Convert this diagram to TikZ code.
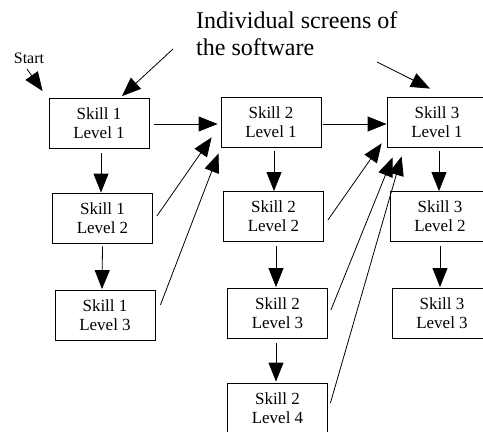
\documentclass[tikz,border=0pt]{standalone}
\usepackage{fontspec}
\setmainfont{Liberation Serif}
\usetikzlibrary{arrows.meta,calc}
\begin{document}
\begin{tikzpicture}[x=1pt,y=-1pt,
  screen/.style={draw,line width=0.8pt,minimum width=100pt,minimum height=50pt,inner sep=0pt,align=center,font=\fontsize{17}{19}\selectfont},
  conn/.style={line width=0.8pt,-{Triangle[length=19pt,width=15pt]}}]
\useasboundingbox (0,0) rectangle (483,432);
\clip (0,0) rectangle (483,432);
% boxes
\node[screen] (s11) at (99,123.5) {Skill 1\\Level 1};
\node[screen] (s12) at (102.5,218) {Skill 1\\Level 2};
\node[screen] (s13) at (105,315.5) {Skill 1\\Level 3};
\node[screen] (s21) at (271,122) {Skill 2\\Level 1};
\node[screen] (s22) at (273.5,216.5) {Skill 2\\Level 2};
\node[screen] (s23) at (277.5,313.5) {Skill 2\\Level 3};
\node[screen] (s24) at (277.5,408) {Skill 2\\Level 4};
\node[screen] (s31) at (437,122) {Skill 3\\Level 1};
\node[screen] (s32) at (440,216.5) {Skill 3\\Level 2};
\node[screen] (s33) at (442,313.5) {Skill 3\\Level 3};
% labels
\node[anchor=north west,inner sep=0pt,align=left,font=\fontsize{24}{27}\selectfont] (lbl) at (196,11.5) {Individual screens of\\the software};
\node[inner sep=0pt,font=\fontsize{16}{18}\selectfont] (start) at (29,58) {Start};
% label arrows
\coordinate (lblA) at (173,49);
\coordinate (lblB) at (377,62);
\coordinate (startA) at (27,69);
\draw[conn] (startA) -- ($(s11.north west)+(-6,-7)$);
\draw[conn] (lblA) -- ($(s11.north)+(23,-2)$);
\draw[conn] (lblB) -- ($(s31.north)+(-7,-8)$);
% horizontal
\draw[conn] ($(s11.east)+(5,0.5)$) -- ($(s21.west)+(-3,2)$);
\draw[conn] ($(s21.east)+(2,2)$) -- ($(s31.west)+(0,2)$);
% vertical
\draw[conn] ($(s11.south)+(2,4)$) -- (s12.north -| {$(s11.south)+(2,0)$});
\draw[conn] ($(s12.south)+(0,3)$) -- ($(s13.north)+(-3,-1)$);
\draw[conn] ($(s21.south)+(3,4)$) -- ($(s22.north)+(0.5,0)$);
\draw[conn] ($(s22.south)+(2.5,4)$) -- ($(s23.north)+(-1.5,-1)$);
\draw[conn] ($(s23.south)+(-1.5,4)$) -- ($(s24.north)+(-1.5,-1)$);
\draw[conn] ($(s31.south)+(2,4)$) -- ($(s32.north)+(-1,0)$);
\draw[conn] ($(s32.south)+(0,4)$) -- ($(s33.north)+(-2,-1)$);
% diagonals back to level 1
\draw[conn] ($(s12.east)+(4,-2)$) -- ($(s21.south west)+(-9,-10)$);
\draw[conn] ($(s13.east)+(5,-10.5)$) -- ($(s21.south west)+(-2,6)$);
\draw[conn] ($(s22.east)+(4,3.5)$) -- ($(s31.south west)+(-5,-4)$);
\draw[conn] ($(s23.east)+(3,-3.5)$) -- ($(s31.south west)+(6,10)$);
\draw[conn] ($(s24.east)+(2.5,-5)$) -- ($(s31.south west)+(15,9)$);
\end{tikzpicture}
\end{document}
